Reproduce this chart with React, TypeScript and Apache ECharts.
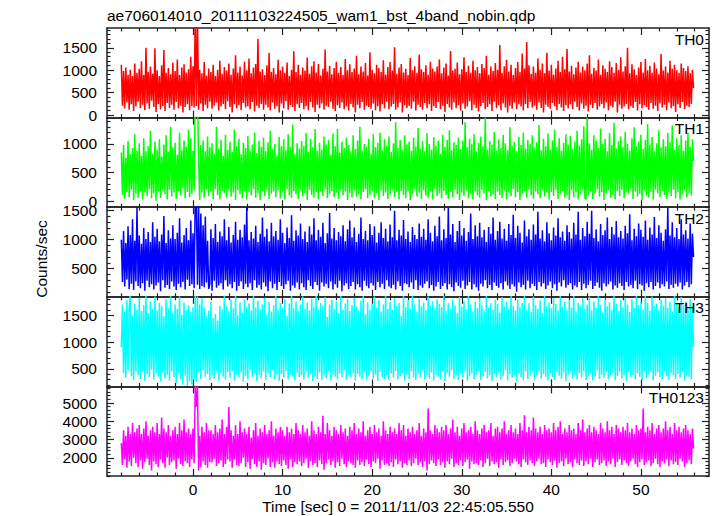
import React, { useEffect, useRef } from 'react';
import * as echarts from 'echarts';

const TITLE = 'ae706014010_20111103224505_wam1_bst_4band_nobin.qdp';
const X_LABEL = 'Time [sec] 0 = 2011/11/03 22:45:05.550';
const Y_LABEL = 'Counts/sec';

const T_START = -8;
const T_STEP = 0.125;
const X_MIN = -9.6;
const X_MAX = 57.6;
const xMajorTicks = [0, 10, 20, 30, 40, 50];
const xMinorTicks = [-8, -6, -4, -2, 2, 4, 6, 8, 12, 14, 16, 18, 22, 24, 26, 28, 32, 34, 36, 38, 42, 44, 46, 48, 52, 54, 56];

const panelNames = ['TH0', 'TH1', 'TH2', 'TH3', 'TH0123'];
const panelColors = ['#ff0000', '#00ff00', '#0000ff', '#00ffff', '#ff00ff'];
const yMins = [-56, -105, 14, 170, 1000];
const yMaxs = [1940, 1460, 1560, 1846, 5910];
const yMajorTicks = [
  [0, 500, 1000, 1500],
  [0, 500, 1000],
  [500, 1000, 1500],
  [500, 1000, 1500],
  [2000, 3000, 4000, 5000],
];
const yMinorSteps = [100, 100, 100, 100, 200];

const th0 = [
  1120, 210, 980, 150, 1060, 280, 900, 120, 1010, 240, 870, 90, 1150, 190, 940, 300,
  1030, 160, 1200, 230, 890, 110, 1500, 260, 960, 140, 1080, 320, 920, 180, 1490, 70,
  1000, 250, 870, 130, 1110, 200, 1450, 90, 940, 270, 1050, 160, 910, 230, 1170, 120,
  980, 290, 1240, 150, 890, 210, 1060, 60, 1130, 180, 950, 240, 1020, 110, 1300, 200,
  1090, 170, 2300, 200, 2200, 120, 1010, 260, 930, 90, 1180, 230, 880, 150, 1040, 300,
  960, 140, 1120, 210, 870, 280, 1010, 100, 1210, 190, 920, 250, 1070, 130, 990, 310,
  1150, 180, 900, 60, 1040, 240, 1330, 150, 950, 220, 1080, 110, 880, 270, 1190, 170,
  1000, 200, 1260, 130, 930, 290, 1060, 80, 1140, 210, 1700, 160, 970, 250, 1020, 120,
  890, 230, 1110, 170, 1380, 100, 960, 280, 1050, 140, 910, 200, 1230, 60, 1000, 260,
  1080, 150, 940, 310, 1170, 120, 870, 220, 1010, 180, 1420, 90, 960, 240, 1120, 160,
  900, 270, 1060, 130, 990, 200, 1280, 110, 920, 290, 1090, 170, 1200, 70, 950, 230,
  1140, 150, 880, 260, 1030, 120, 1460, 210, 970, 180, 1100, 300, 910, 140, 1050, 90,
  1190, 220, 940, 160, 1070, 280, 890, 130, 1250, 200, 1000, 100, 1130, 250, 960, 170,
  1040, 60, 1320, 230, 910, 150, 1080, 290, 970, 120, 1160, 210, 880, 180, 1400, 140,
  1010, 260, 930, 110, 1120, 200, 1050, 80, 960, 240, 1220, 150, 900, 300, 1070, 130,
  1180, 190, 990, 250, 1510, 120, 920, 170, 1060, 280, 1140, 60, 950, 220, 1030, 160,
  890, 210, 1270, 140, 1000, 300, 1090, 100, 940, 230, 1350, 180, 1020, 120, 960, 270,
  1110, 150, 900, 240, 1190, 90, 1040, 200, 970, 160, 1080, 290, 1240, 130, 930, 210,
  1060, 70, 1150, 250, 880, 170, 1430, 120, 990, 280, 1030, 150, 1170, 220, 910, 100,
  1020, 260, 1290, 140, 960, 190, 1100, 310, 940, 110, 1210, 230, 1000, 160, 1070, 80,
  930, 200, 1140, 270, 1050, 130, 1320, 180, 900, 240, 1080, 90, 980, 300, 1160, 150,
  1010, 220, 1560, 110, 940, 260, 1090, 170, 1230, 60, 970, 210, 1120, 140, 890, 280,
  1050, 130, 1180, 240, 960, 190, 1370, 100, 1040, 250, 1630, 150, 1110, 290, 920, 170,
  1080, 210, 940, 120, 1260, 280, 1010, 160, 1150, 60, 930, 230, 1390, 180, 990, 140,
  1120, 270, 900, 200, 1040, 110, 1210, 250, 960, 170, 1300, 90, 1020, 220, 1470, 150,
  970, 240, 1100, 130, 910, 300, 1060, 180, 1190, 100, 950, 260, 1080, 140, 1000, 210,
  1150, 80, 1330, 230, 920, 160, 1050, 270, 990, 120, 1240, 190, 900, 250, 1110, 150,
  1030, 280, 960, 110, 1200, 210, 1070, 170, 940, 300, 1160, 60, 1010, 230, 1290, 140,
  970, 190, 1090, 250, 1500, 130, 930, 200, 1130, 160, 1020, 290, 890, 100, 1060, 240,
  1180, 150, 950, 220, 1250, 180, 1000, 120, 1100, 270, 940, 140, 1170, 210, 1040, 90,
  910, 260, 1360, 170, 990, 230, 1080, 110, 950, 280, 1210, 150, 1030, 200, 1120, 70,
  1000, 240, 940, 160, 1150, 290, 1050, 130, 980, 210, 1090, 180, 930, 250, 1010, 600,
];

const th1 = [
  850, 110, 980, 40, 760, 160, 1050, 70, 820, 200, 930, 20, 1170, 130, 880, 60,
  1010, 180, 790, 30, 1100, 150, 870, 90, 960, 210, 1230, 50, 830, 140, 1040, 10,
  900, 170, 1080, 60, 780, 190, 990, 120, 1150, 30, 860, 200, 1300, 80, 940, 150,
  1020, 40, 810, 180, 1200, 100, 890, 220, 1060, 50, 950, 160, 1250, 70, 1100, 130,
  880, 190, 2000, 1600, 1900, 700, 20, 980, 150, 1060, 60, 870, 200, 1130, 90, 940,
  170, 1010, 40, 830, 210, 1300, 110, 920, 30, 1070, 180, 790, 140, 1160, 60, 900,
  200, 1040, 80, 860, 150, 1250, 20, 960, 190, 1090, 120, 820, 50, 1020, 170, 930,
  30, 1140, 160, 880, 100, 990, 210, 1200, 60, 840, 140, 1060, 20, 950, 180, 1110,
  90, 870, 200, 1030, 40, 1230, 130, 910, 170, 1000, 70, 800, 190, 1120, 50, 960,
  150, 1080, 30, 890, 210, 1170, 100, 950, 60, 1340, 180, 830, 120, 1010, 40, 920,
  190, 1050, 80, 970, 140, 1190, 20, 860, 200, 1090, 110, 940, 60, 1260, 160, 880,
  30, 1020, 170, 900, 90, 1130, 210, 990, 50, 1070, 130, 810, 180, 1180, 70, 960,
  150, 1260, 40, 850, 200, 1040, 100, 930, 170, 1110, 20, 980, 140, 870, 60, 1150,
  190, 910, 80, 1060, 120, 1300, 30, 880, 160, 1000, 210, 950, 50, 1090, 110, 830,
  180, 1170, 60, 940, 140, 1020, 20, 1200, 190, 890, 90, 1080, 150, 970, 40, 1130,
  120, 860, 200, 1010, 70, 1380, 160, 930, 30, 1070, 180, 900, 110, 1150, 50, 990,
  170, 1040, 20, 880, 130, 1110, 200, 960, 80, 1280, 150, 920, 40, 1050, 190, 870,
  100, 1190, 60, 1000, 170, 900, 30, 1120, 210, 970, 90, 1060, 140, 830, 50, 1160,
  180, 950, 110, 1070, 40, 1240, 160, 890, 70, 1030, 200, 980, 120, 1110, 20, 910,
  150, 1060, 90, 1380, 190, 940, 50, 1090, 130, 1000, 30, 1170, 170, 870, 100, 1020,
  60, 1130, 200, 960, 140, 1460, 20, 900, 180, 1050, 80, 990, 120, 1210, 40, 880,
  170, 1080, 110, 930, 50, 1160, 190, 1010, 30, 890, 150, 1290, 90, 970, 210, 1040,
  70, 870, 160, 1120, 20, 980, 130, 1200, 180, 920, 60, 1070, 200, 1000, 100, 1150,
  40, 940, 170, 1030, 120, 1330, 50, 890, 190, 1090, 80, 960, 150, 1180, 30, 900,
  160, 1060, 90, 1250, 200, 950, 40, 1100, 130, 880, 180, 1020, 60, 1170, 110, 990,
  20, 1140, 190, 910, 70, 1040, 150, 1230, 30, 970, 120, 1080, 200, 1310, 50, 30,
  1460, 100, 1010, 170, 900, 40, 1150, 130, 1060, 210, 930, 80, 1270, 160, 1000, 20,
  1090, 140, 870, 190, 1190, 60, 980, 110, 1370, 30, 920, 180, 1050, 90, 1130, 200,
  950, 50, 1210, 150, 1000, 120, 880, 210, 1100, 40, 1290, 170, 960, 80, 1040, 130,
  1160, 20, 910, 190, 1070, 100, 1350, 60, 990, 160, 1120, 30, 870, 200, 1010, 140,
  1240, 70, 940, 180, 1080, 110, 960, 40, 1190, 150, 1030, 90, 1320, 200, 900, 50,
  1100, 160, 980, 30, 1150, 120, 880, 190, 1060, 70, 1200, 140, 950, 100, 1080, 700,
];

const th2 = [
  1000, 270, 1150, 190, 940, 310, 1230, 150, 1080, 240, 1350, 130, 980, 280, 1560, 200,
  1070, 160, 930, 250, 1200, 120, 1010, 290, 1130, 180, 960, 230, 1300, 140, 1050, 210,
  1190, 260, 970, 110, 1090, 300, 1410, 170, 940, 220, 1160, 150, 1020, 280, 1250, 190,
  1010, 130, 1120, 240, 1370, 180, 950, 270, 1080, 140, 1200, 310, 990, 200, 1330, 230,
  1110, 160, 1700, 1650, 220, 1600, 150, 1450, 200, 1250, 180, 1400, 260, 980, 150, 230,
  1180, 120, 1030, 290, 1270, 170, 960, 210, 1140, 250, 1060, 140, 1350, 300, 990, 190,
  1220, 230, 950, 160, 1080, 270, 1310, 120, 1000, 200, 1170, 280, 1040, 150, 1260, 240,
  1560, 180, 990, 250, 1130, 130, 1020, 300, 1240, 170, 960, 220, 1100, 140, 1380, 260,
  1050, 190, 1190, 110, 970, 280, 1290, 160, 1060, 240, 1150, 130, 1000, 270, 1350, 200,
  1120, 150, 940, 230, 1210, 290, 1030, 120, 1420, 210, 980, 170, 1160, 260, 1070, 140,
  1280, 250, 1010, 180, 1140, 130, 960, 300, 1230, 200, 1090, 150, 1370, 270, 990, 220,
  1170, 120, 1050, 260, 1290, 190, 940, 240, 1110, 160, 1460, 280, 1020, 140, 1200, 230,
  990, 170, 1130, 290, 1060, 110, 1250, 210, 970, 250, 1180, 150, 1330, 200, 1040, 270,
  1210, 140, 960, 230, 1100, 180, 1380, 120, 1010, 290, 1150, 200, 990, 160, 1270, 250,
  1080, 210, 1230, 130, 950, 270, 1120, 180, 1300, 240, 1030, 150, 1190, 300, 970, 190,
  1260, 160, 1040, 220, 1500, 140, 990, 280, 1170, 200, 1070, 120, 1340, 250, 1010, 230,
  1140, 180, 960, 260, 1220, 150, 1080, 300, 1010, 130, 1280, 210, 1050, 170, 1190, 240,
  1000, 280, 1350, 160, 1120, 220, 970, 120, 1240, 190, 1060, 270, 1400, 150, 990, 200,
  1180, 250, 1030, 140, 1560, 230, 1090, 180, 1270, 110, 960, 260, 1150, 200, 1320, 170,
  1070, 290, 1200, 150, 980, 210, 1130, 270, 1450, 140, 1010, 230, 1250, 180, 1060, 120,
  1290, 240, 1040, 190, 1170, 300, 960, 160, 1220, 220, 1100, 130, 1380, 260, 1000, 200,
  1150, 170, 1310, 250, 1020, 140, 1190, 280, 980, 210, 1270, 150, 1080, 230, 1430, 190,
  1030, 100, 1240, 260, 1120, 180, 950, 220, 1330, 140, 1060, 290, 1180, 160, 1000, 240,
  1260, 200, 1090, 130, 1480, 270, 1020, 190, 1160, 250, 970, 150, 1300, 210, 1110, 280,
  990, 160, 1210, 230, 1070, 120, 1370, 260, 1040, 190, 1140, 300, 980, 170, 1250, 220,
  1130, 250, 1020, 140, 1290, 210, 1090, 180, 1480, 270, 1000, 130, 1200, 240, 1060, 160,
  1310, 220, 1100, 290, 1500, 150, 1030, 200, 1180, 260, 970, 170, 1270, 120, 1080, 250,
  1160, 190, 1380, 230, 1010, 280, 1220, 140, 1090, 210, 1320, 170, 1040, 250, 1150, 200,
  1020, 130, 1240, 270, 1110, 190, 1440, 220, 990, 160, 1190, 290, 1060, 150, 1280, 230,
  1170, 210, 1050, 120, 1330, 250, 1000, 180, 1210, 270, 1090, 140, 1390, 200, 1030, 260,
  1250, 160, 1120, 230, 980, 190, 1180, 280, 1560, 150, 1070, 220, 1300, 170, 1040, 240,
  1200, 190, 1010, 260, 1350, 140, 1090, 210, 1160, 270, 1020, 180, 1280, 230, 1100, 700,
];

const th3 = [
  900, 1700, 420, 1560, 330, 1780, 470, 1650, 1900, 360, 1500, 290, 1720, 450, 1610, 380,
  1830, 310, 1580, 440, 1690, 270, 1900, 400, 1540, 340, 1760, 480, 1620, 300, 1850, 410,
  1590, 350, 1730, 260, 1670, 430, 1480, 320, 1800, 390, 1630, 280, 1900, 460, 1550, 340,
  1700, 240, 1620, 410, 1850, 300, 1510, 200, 1740, 370, 1600, 180, 1690, 260, 1560, 200,
  1650, 300, 1900, 250, 1850, 430, 1700, 310, 1820, 470, 1640, 350, 1480, 400, 1590, 290,
  1760, 380, 1450, 320, 1530, 460, 1400, 280, 1680, 410, 1610, 350, 1880, 300, 1670, 440,
  1580, 330, 1790, 460, 1630, 280, 1870, 390, 1500, 340, 1740, 430, 1550, 260, 1800, 370,
  1660, 300, 1720, 480, 1590, 350, 1900, 410, 1640, 270, 1770, 390, 1610, 320, 1700, 450,
  1830, 290, 1520, 420, 1750, 340, 1570, 480, 1690, 310, 1880, 380, 1600, 270, 1730, 400,
  1650, 330, 1800, 460, 1490, 300, 1720, 390, 1860, 350, 1630, 280, 1760, 420, 1580, 340,
  1700, 380, 1850, 300, 1620, 450, 1740, 330, 1590, 400, 1810, 270, 1660, 360, 1900, 310,
  1610, 430, 1730, 290, 1680, 370, 1840, 320, 1470, 460, 1700, 280, 1790, 390, 1620, 350,
  1760, 300, 1540, 410, 1870, 340, 1600, 470, 1720, 290, 1810, 380, 1580, 330, 1690, 420,
  1830, 280, 1660, 400, 1590, 350, 1770, 310, 1900, 430, 1520, 300, 1740, 370, 1600, 460,
  1710, 320, 1850, 390, 1640, 270, 1790, 440, 1570, 340, 1700, 310, 1880, 380, 1620, 290,
  1750, 410, 1600, 330, 1820, 460, 1680, 300, 1730, 360, 1490, 420, 1860, 280, 1650, 390,
  1780, 310, 1620, 450, 1900, 340, 1700, 290, 1560, 400, 1810, 330, 1670, 470, 1740, 300,
  1600, 380, 1850, 320, 1690, 430, 1760, 280, 1630, 390, 1800, 350, 1710, 300, 1650, 440,
  1880, 270, 1580, 420, 1730, 350, 1620, 470, 1790, 310, 1680, 380, 1540, 290, 1840, 400,
  1660, 330, 1770, 450, 1610, 280, 1900, 360, 1700, 420, 1560, 300, 1750, 390, 1630, 460,
  1820, 290, 1690, 370, 1580, 440, 1860, 320, 1640, 380, 1730, 270, 1600, 410, 1790, 350,
  1710, 430, 1550, 300, 1840, 360, 1670, 470, 1760, 280, 1620, 400, 1890, 330, 1680, 380,
  1590, 270, 1800, 420, 1650, 340, 1730, 290, 1870, 450, 1600, 310, 1720, 370, 1560, 430,
  1850, 300, 1690, 380, 1620, 460, 1780, 320, 1540, 400, 1900, 350, 1670, 280, 1740, 410,
  1630, 340, 1820, 290, 1710, 440, 1590, 370, 1860, 310, 1660, 430, 1750, 270, 1600, 390,
  1790, 450, 1640, 320, 1900, 380, 1570, 300, 1730, 420, 1680, 340, 1820, 460, 1620, 290,
  1700, 360, 1850, 410, 1590, 280, 1760, 350, 1640, 470, 1880, 310, 1690, 390, 1550, 330,
  1810, 440, 1670, 300, 1740, 370, 1600, 420, 1890, 280, 1720, 360, 1580, 450, 1780, 320,
  1650, 390, 1830, 270, 1700, 430, 1560, 340, 1800, 380, 1640, 300, 1870, 410, 1690, 350,
  1760, 290, 1610, 460, 1900, 320, 1730, 390, 1580, 440, 1850, 280, 1670, 370, 1720, 430,
  1600, 340, 1790, 300, 1680, 450, 1820, 360, 1640, 290, 1750, 420, 1570, 380, 1880, 310,
  1710, 400, 1650, 330, 1840, 440, 1690, 280, 1760, 370, 1620, 350, 1800, 300, 1670, 900,
];

const th0123 = [
  2800, 1600, 3500, 1900, 3200, 1450, 3700, 1800, 3300, 1550, 3900, 2000, 3400, 1700, 3600, 1500,
  3800, 1850, 3300, 1400, 3600, 1750, 4000, 1950, 3200, 1600, 3500, 1300, 3700, 1800, 3400, 1650,
  3900, 1500, 3300, 1900, 4200, 1700, 3600, 1450, 3400, 2000, 3800, 1600, 3200, 1750, 3500, 1850,
  3700, 1400, 3300, 1950, 3900, 1650, 3500, 1550, 4100, 1800, 3400, 1700, 3600, 1500, 3300, 1900,
  3600, 1700, 6000, 4800, 5900, 1300, 3200, 1500, 3700, 1800, 3400, 1600, 3900, 1450, 3500, 1750,
  3500, 1750, 3300, 1950, 3800, 1550, 3400, 1700, 3600, 1850, 4100, 1500, 3300, 1650, 3700, 1900,
  4780, 1800, 3500, 1450, 3200, 1900, 3800, 1600, 3300, 1550, 4000, 1700, 3400, 2000, 3600, 1500,
  3300, 1750, 3700, 1400, 3100, 1900, 3500, 1650, 3900, 1500, 3200, 1800, 3600, 1350, 3400, 1700,
  3800, 1600, 3300, 1950, 3500, 1500, 4000, 1750, 3200, 1450, 3600, 1800, 3400, 1650, 3700, 1550,
  3500, 1850, 3200, 1600, 3700, 1400, 3400, 1900, 3600, 1500, 3300, 1750, 3900, 1650, 3500, 1800,
  3300, 1550, 3800, 1700, 3400, 1950, 3600, 1450, 3200, 1800, 4000, 1600, 3500, 1700, 3300, 1500,
  3700, 1850, 3400, 1650, 4300, 1350, 3300, 1700, 3900, 1900, 3500, 1600, 3200, 1800, 3700, 1450,
  3500, 1750, 3300, 1550, 3800, 1950, 3400, 1650, 3600, 1500, 3200, 1800, 3700, 1700, 3500, 1600,
  3900, 1450, 3300, 1850, 3600, 1600, 3400, 1750, 4000, 1550, 3200, 1900, 3500, 1650, 3700, 1500,
  3300, 1800, 3800, 1700, 3400, 1950, 3600, 1400, 3200, 1850, 4000, 1600, 3500, 1700, 3300, 1550,
  3700, 1750, 3400, 1500, 3600, 1900, 3300, 1650, 3900, 1800, 3500, 1450, 3800, 1700, 3200, 1600,
  3600, 1850, 3400, 1550, 3700, 1700, 3300, 1950, 3500, 1600, 3900, 1750, 3200, 1500, 3600, 1800,
  3400, 1300, 4700, 1650, 3500, 1850, 3300, 1700, 3800, 1550, 3600, 1900, 3400, 1600, 3700, 1750,
  3500, 1450, 3800, 1800, 3300, 1650, 3600, 1950, 4100, 1500, 3400, 1700, 3700, 1600, 3200, 1850,
  3600, 1550, 3900, 1750, 3400, 1900, 3500, 1400, 3700, 1800, 3300, 1650, 4000, 1700, 3500, 1600,
  3300, 1850, 3600, 1500, 3800, 1700, 3400, 1950, 3500, 1550, 3900, 1800, 3200, 1650, 3600, 1750,
  3700, 1450, 3400, 1900, 3600, 1600, 4000, 1750, 3300, 1850, 3500, 1550, 3800, 1700, 3400, 1950,
  3600, 1800, 3300, 1650, 3900, 1500, 3500, 1900, 4330, 1750, 3400, 1600, 3700, 1850, 3500, 1700,
  4200, 1550, 3600, 1800, 3400, 1950, 3700, 1650, 3300, 1700, 3800, 1500, 3500, 1900, 3600, 1750,
  3400, 1600, 3900, 1850, 3500, 1450, 3700, 1700, 4000, 1800, 3300, 1550, 3600, 1950, 3400, 1650,
  3800, 1750, 3500, 1500, 3600, 1900, 3300, 1700, 3900, 1600, 3500, 1850, 4100, 1550, 3400, 1800,
  3600, 1650, 3800, 1950, 3400, 1500, 3700, 1750, 3500, 1900, 3300, 1600, 3900, 1700, 3600, 1850,
  3400, 1550, 4000, 1800, 3500, 1650, 3700, 1950, 3300, 1500, 3800, 1750, 3600, 1900, 3400, 1600,
  3700, 1850, 3500, 1700, 3900, 1550, 3400, 1800, 3600, 1950, 3300, 1650, 3800, 1500, 3500, 1750,
  3600, 1900, 4700, 1600, 3400, 1750, 3700, 1850, 3500, 1550, 3900, 1700, 3300, 1950, 3600, 1650,
  3800, 1500, 3400, 1800, 3600, 1700, 4000, 1900, 3500, 1550, 3700, 1850, 3300, 1650, 3900, 1750,
  3500, 1600, 3700, 1950, 3400, 1800, 3600, 1500, 3800, 1700, 3500, 1850, 3300, 1650, 3600, 2500,
];

const panelData = [th0, th1, th2, th3, th0123];

const FONT = '"Liberation Sans", Arial, Helvetica, sans-serif';
const FS = 15.5;
const AXIS_COLOR = '#222';
const GRID_LEFT = 107;
const GRID_RIGHT_EDGE = 709;
const GRID_TOP = 28;
const PANEL_H = 89.6;

function minorList(min: number, max: number, step: number, majors: number[]) {
  const out: number[] = [];
  for (let v = Math.ceil(min / step) * step; v <= max; v += step) {
    if (!majors.includes(v)) out.push(v);
  }
  return out;
}

export default function App() {
  const ref = useRef<HTMLDivElement>(null);
  useEffect(() => {
    document.body.style.margin = '0';
    if (!ref.current) return;
    const chart = echarts.init(ref.current, null, { renderer: 'svg' });

    const grids: any[] = [];
    const xAxes: any[] = [];
    const yAxes: any[] = [];
    const series: any[] = [];
    const graphics: any[] = [];
    const fmt = (v: number) => String(v);

    panelNames.forEach((name, p) => {
      const top = GRID_TOP + p * PANEL_H;
      grids.push({
        left: GRID_LEFT,
        top,
        width: GRID_RIGHT_EDGE - GRID_LEFT,
        height: PANEL_H,
        containLabel: false,
        outerBoundsMode: 'none',
      });
      const isLast = p === panelNames.length - 1;
      const lineStyle = { color: AXIS_COLOR, width: 1.5 };
      const baseX = (position: string, ticks: number[], len: number, showLine: boolean, labels: boolean) => ({
        type: 'value',
        gridIndex: p,
        position,
        min: X_MIN,
        max: X_MAX,
        axisLine: { show: showLine, onZero: false, lineStyle },
        axisTick: { show: true, inside: true, length: len, customValues: ticks, lineStyle: { color: AXIS_COLOR, width: 1.2 } },
        axisLabel: labels
          ? { show: true, customValues: xMajorTicks, formatter: fmt, fontSize: FS, fontFamily: FONT, color: '#000', margin: 5 }
          : { show: false },
        splitLine: { show: false },
        minorTick: { show: false },
      });
      xAxes.push(baseX('bottom', xMajorTicks, 7, true, isLast));
      xAxes.push(baseX('bottom', xMinorTicks, 3.5, false, false));
      xAxes.push(baseX('top', xMajorTicks, 7, true, false));
      xAxes.push(baseX('top', xMinorTicks, 3.5, false, false));

      const majors = yMajorTicks[p];
      const minors = minorList(yMins[p], yMaxs[p], yMinorSteps[p], majors);
      const baseY = (position: string, ticks: number[], len: number, showLine: boolean, labels: boolean) => ({
        type: 'value',
        gridIndex: p,
        position,
        min: yMins[p],
        max: yMaxs[p],
        axisLine: { show: showLine, onZero: false, lineStyle },
        axisTick: { show: true, inside: true, length: len, customValues: ticks, lineStyle: { color: AXIS_COLOR, width: 1.2 } },
        axisLabel: labels
          ? { show: true, customValues: majors, formatter: fmt, fontSize: FS, fontFamily: FONT, color: '#000', margin: 10 }
          : { show: false },
        splitLine: { show: false },
        minorTick: { show: false },
      });
      yAxes.push(baseY('left', majors, 7, true, true));
      yAxes.push(baseY('left', minors, 3.5, false, false));
      yAxes.push(baseY('right', majors, 7, true, false));
      yAxes.push(baseY('right', minors, 3.5, false, false));

      series.push({
        type: 'line',
        name,
        xAxisIndex: p * 4,
        yAxisIndex: p * 4,
        data: panelData[p].map((v, i) => [T_START + i * T_STEP, v]),
        showSymbol: false,
        symbol: 'none',
        clip: true,
        lineStyle: { color: panelColors[p], width: 1.5 },
        itemStyle: { color: panelColors[p] },
      });

      graphics.push({
        type: 'text',
        x: 704,
        y: top + 11,
        style: {
          text: name,
          fill: '#000',
          font: `${FS}px ${FONT}`,
          textAlign: 'right',
          textVerticalAlign: 'middle',
        },
        z: 100,
      });
    });

    graphics.push({
      type: 'text',
      x: 107,
      y: 15,
      style: { text: TITLE, fill: '#000', font: `${FS}px ${FONT}`, textAlign: 'left', textVerticalAlign: 'middle' },
    });
    graphics.push({
      type: 'text',
      x: 398,
      y: 506,
      style: { text: X_LABEL, fill: '#000', font: `${FS}px ${FONT}`, textAlign: 'center', textVerticalAlign: 'middle' },
    });
    graphics.push({
      type: 'text',
      x: 41,
      y: 259,
      rotation: Math.PI / 2,
      style: { text: Y_LABEL, fill: '#000', font: `${FS}px ${FONT}`, textAlign: 'center', textVerticalAlign: 'middle' },
    });

    chart.setOption({
      animation: false,
      backgroundColor: '#fff',
      grid: grids,
      xAxis: xAxes,
      yAxis: yAxes,
      series,
      graphic: graphics,
    });
    return () => chart.dispose();
  }, []);
  return <div ref={ref} style={{ width: 717, height: 516 }} />;
}
